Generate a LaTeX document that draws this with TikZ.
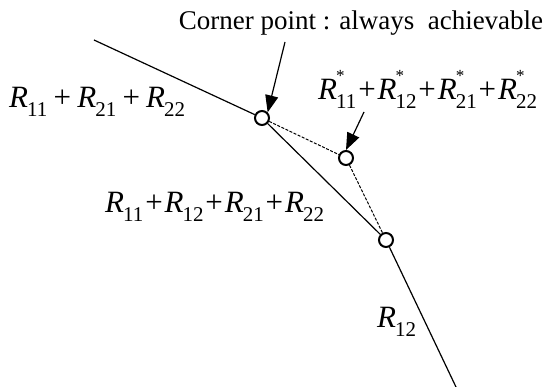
\documentclass[tikz,border=0pt]{standalone}
\usepackage{fontspec}
\setmainfont{Liberation Serif}
\usetikzlibrary{arrows.meta}
\newcommand\Rsub[1]{\textit{R}\kern-0.03em\raisebox{-0.27em}{\fontsize{21}{21}\selectfont #1}}
\newcommand\Rst[1]{\textit{R}\kern-0.03em\rlap{\raisebox{0.6em}{\fontsize{17}{17}\selectfont *}}\raisebox{-0.27em}{\fontsize{21}{21}\selectfont #1}}
\newcommand\pl{\kern0.06em+\kern0.06em}
\tikzset{
  pt/.style={circle,draw,line width=2pt,fill=white,minimum size=14pt,inner sep=0pt},
  lbl/.style={inner sep=0pt,font=\fontsize{31}{31}\selectfont},
  curve/.style={line width=1.2pt},
  dashline/.style={line width=1pt,dash pattern=on 3pt off 1.5pt},
  ptr/.style={line width=1.2pt,-{Triangle[length=17pt,width=13pt]}}
}
\begin{document}
\begin{tikzpicture}[x=1pt,y=-1pt]
\useasboundingbox (0,0) rectangle (547,387);
\coordinate (s) at (94,40);
\coordinate (e) at (456,387);
\node[pt] (A) at (262,118) {};
\node[pt] (B) at (346,158) {};
\node[pt] (C) at (386,240) {};
\draw[curve] (s) -- (A);
\draw[curve] (A) -- (C);
\draw[curve] (C) -- (e);
\draw[dashline] (A) -- (B);
\draw[dashline] (B) -- (C);
\node[inner sep=0pt,font=\fontsize{27}{27}\selectfont,anchor=base] (t1) at (361,30) {Corner point : always\ \ achievable};
\coordinate (a1) at (285,42);
\draw[ptr] (a1) -- (A.north east);
\node[lbl,anchor=base west] (L1) at (9,108) {\Rsub{11}\kern0.2em+\kern0.2em\Rsub{21}\kern0.2em+\kern0.2em\Rsub{22}};
\node[lbl,anchor=base west] (L2) at (318,100) {\Rst{11}\pl\Rst{12}\pl\Rst{21}\pl\Rst{22}};
\coordinate (a2) at (364,112);
\draw[ptr] (a2) -- (B.north);
\node[lbl,anchor=base west] (L3) at (105,213) {\Rsub{11}\pl\Rsub{12}\pl\Rsub{21}\pl\Rsub{22}};
\node[lbl,anchor=base west] (L4) at (377,328) {\Rsub{12}};
\end{tikzpicture}
\end{document}
